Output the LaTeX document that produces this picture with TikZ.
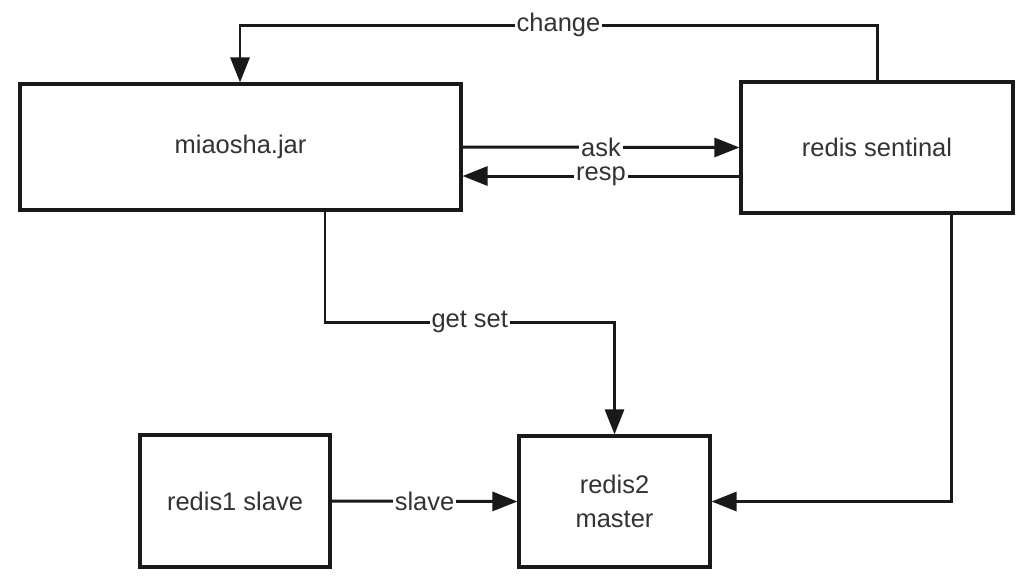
\documentclass[tikz,border=0pt]{standalone}
\usepackage{fontspec}
\setmainfont{Liberation Sans}
\usetikzlibrary{arrows.meta}

\tikzset{
  box/.style={draw=black!90, line width=1.8pt, fill=white, text=black!80, align=center, font=\fontsize{14.5}{19}\selectfont},
  arr/.style={draw=black!90, line width=1.7pt, -{Triangle[length=0.5cm, width=0.38cm]}},
  lbl/.style={fill=white, text=black!80, inner sep=1pt, font=\fontsize{14.5}{17}\selectfont}
}

\begin{document}
\begin{tikzpicture}[x=0.02cm, y=-0.02cm]
\useasboundingbox (0,0) rectangle (1020,576);
% boxes
\node[box, minimum width=8.82cm, minimum height=2.52cm] (jar) at (240.5,147) {miaosha.jar};
\node[box, minimum width=5.44cm, minimum height=2.62cm] (sentinal) at (877,147.5) {redis sentinal};
\node[box, minimum width=3.8cm, minimum height=2.64cm] (slave) at (235,501) {redis1 slave};
\node[box, minimum width=3.82cm, minimum height=2.62cm] (master) at (614.5,501.5) {redis2\\master};
% helper points
\coordinate (chg) at (240,25);
\coordinate (respy) at (0,176);
\coordinate (gs) at (325,322);
\coordinate (sm) at (951,500);
% connectors
\draw[arr] (sentinal.north) -- (sentinal.north |- chg) -- node[lbl] {change} (chg) -- (chg |- jar.north);
\draw[arr] (jar.east) -- node[lbl] {ask} (sentinal.west);
\draw[arr] (sentinal.west |- respy) -- node[lbl] {resp} (jar.east |- respy);
\draw[arr] (gs |- jar.south) -- (gs) -- node[lbl] {get set} (gs -| master.north) -- (master.north);
\draw[arr] (sm |- sentinal.south) -- (sm |- master.east) -- (master.east);
\draw[arr] (slave.east) -- node[lbl] {slave} (master.west);
\end{tikzpicture}
\end{document}
